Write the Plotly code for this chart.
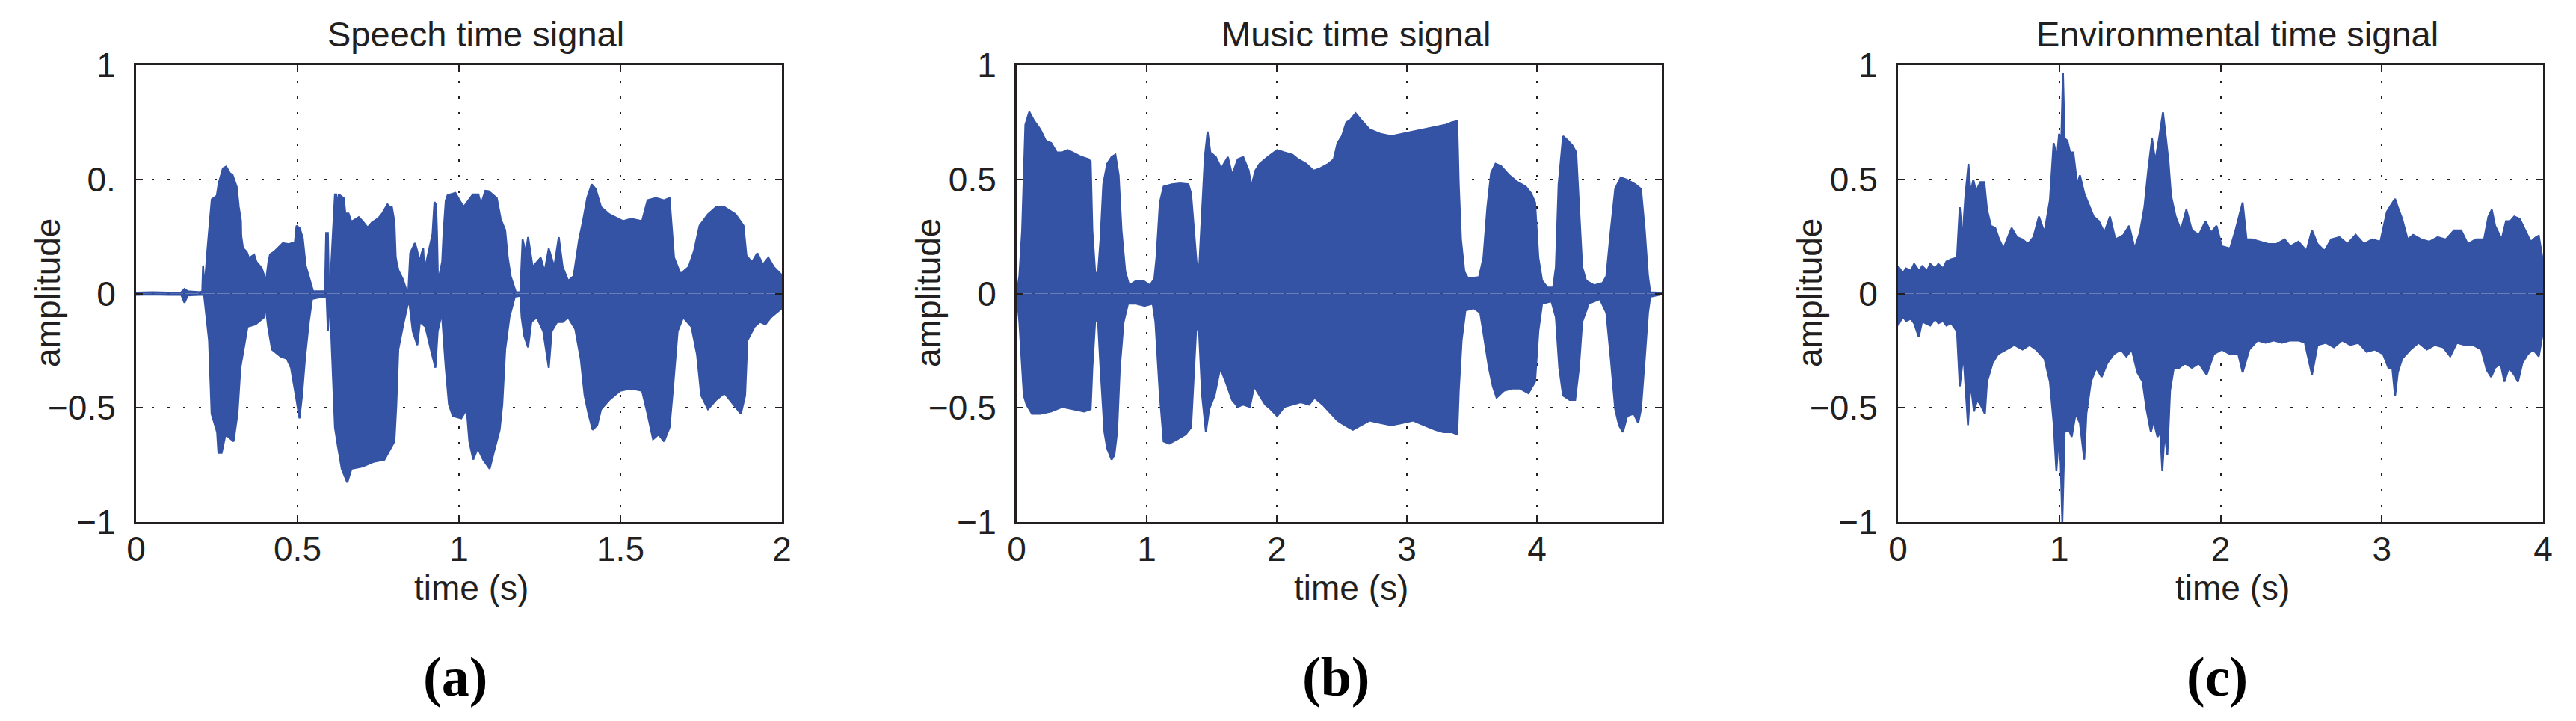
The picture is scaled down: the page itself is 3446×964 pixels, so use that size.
import plotly.graph_objects as go

# ---------------- data (envelopes) ----------------
speech_up_t = [0.0, 0.05, 0.10, 0.14, 0.15, 0.16, 0.20, 0.205, 0.2075, 0.212, 0.2215, 0.231, 0.2345, 0.25, 0.256, 0.269, 0.279, 0.291,
               0.2985, 0.3117, 0.318, 0.3248, 0.3256, 0.331, 0.3426, 0.350, 0.3657, 0.3727, 0.3889, 0.398, 0.403, 0.410,
               0.415, 0.4275, 0.4545, 0.4738, 0.492, 0.497, 0.5069, 0.5162, 0.52, 0.525, 0.534, 0.5417, 0.548, 0.585,
               0.5887, 0.594, 0.597, 0.602, 0.607, 0.6119, 0.616, 0.62, 0.623, 0.628, 0.6435, 0.648, 0.658, 0.6667,
               0.6898, 0.703, 0.7169, 0.73, 0.7505, 0.763, 0.7785, 0.785, 0.792, 0.800, 0.804, 0.808, 0.813, 0.826,
               0.835, 0.843, 0.849, 0.8634, 0.870, 0.8777, 0.889, 0.893, 0.898, 0.912, 0.918, 0.924, 0.929, 0.932,
               0.935, 0.948, 0.952, 0.959, 0.965, 0.989, 1.005, 1.015, 1.043, 1.06, 1.068, 1.0818, 1.092, 1.117,
               1.129, 1.143, 1.151, 1.16, 1.176, 1.19, 1.197, 1.207, 1.214, 1.228, 1.253, 1.265, 1.278, 1.295,
               1.309, 1.321, 1.338, 1.355, 1.372, 1.384, 1.397, 1.411, 1.423, 1.44, 1.465, 1.508, 1.533, 1.567,
               1.584, 1.61, 1.635, 1.652, 1.66, 1.666, 1.686, 1.711, 1.728, 1.745, 1.771, 1.796, 1.822, 1.856,
               1.881, 1.89, 1.907, 1.924, 1.941, 1.958, 1.975, 1.99, 2.0]
speech_up_v = [0.004, 0.006, 0.004, 0.005, 0.02, 0.01, 0.006, 0.01, 0.123, 0.02, 0.199, 0.352, 0.412, 0.428, 0.483, 0.548, 0.556, 0.526,
               0.52, 0.466, 0.379, 0.319, 0.254, 0.199, 0.183, 0.155, 0.170, 0.139, 0.112, 0.074, 0.06, 0.139,
               0.172, 0.183, 0.221, 0.216, 0.226, 0.297, 0.286, 0.243, 0.18, 0.123, 0.079, 0.041, 0.01, 0.01,
               0.265, 0.265, 0.05, 0.06, 0.188, 0.325, 0.434, 0.434, 0.377, 0.434, 0.417, 0.35, 0.35, 0.314,
               0.334, 0.314, 0.289, 0.31, 0.33, 0.352, 0.39, 0.38, 0.38, 0.314, 0.161, 0.128, 0.10, 0.063,
               0.024, 0.005, 0.177, 0.221, 0.19, 0.14, 0.20, 0.10, 0.13, 0.22, 0.26, 0.40, 0.39, 0.26,
               0.05, 0.14, 0.26, 0.406, 0.43, 0.44, 0.40, 0.38, 0.434, 0.434, 0.39, 0.45, 0.448, 0.418,
               0.327, 0.277, 0.157, 0.076, 0.006, 0.006, 0.237, 0.177, 0.247, 0.116, 0.157, 0.096, 0.197, 0.116,
               0.247, 0.116, 0.056, 0.076, 0.237, 0.317, 0.418, 0.478, 0.458, 0.378, 0.347, 0.317, 0.327, 0.317,
               0.408, 0.418, 0.408, 0.418, 0.277, 0.157, 0.086, 0.116, 0.187, 0.297, 0.347, 0.378, 0.378, 0.347,
               0.297, 0.167, 0.137, 0.177, 0.127, 0.157, 0.116, 0.096, 0.08]
speech_lo_t = [0.0, 0.05, 0.10, 0.14, 0.15, 0.16, 0.21, 0.212, 0.226, 0.234, 0.251, 0.255, 0.265, 0.277, 0.302, 0.314, 0.323, 0.345,
               0.37, 0.396, 0.401, 0.409, 0.421, 0.447, 0.467, 0.48, 0.497, 0.506, 0.514, 0.523, 0.535, 0.545, 0.59,
               0.594, 0.60, 0.608, 0.616, 0.625, 0.637, 0.654, 0.667, 0.701, 0.735, 0.769, 0.789, 0.80, 0.806,
               0.812, 0.829, 0.845, 0.857, 0.871, 0.879, 0.896, 0.913, 0.927, 0.934, 0.947, 0.959, 0.969, 0.981,
               1.007, 1.024, 1.032, 1.044, 1.058, 1.075, 1.095, 1.109, 1.126, 1.134, 1.143, 1.156, 1.173, 1.19,
               1.194, 1.202, 1.214, 1.224, 1.241, 1.261, 1.278, 1.287, 1.304, 1.321, 1.338, 1.36, 1.377, 1.389,
               1.401, 1.414, 1.428, 1.44, 1.465, 1.499, 1.533, 1.567, 1.584, 1.601, 1.618, 1.635, 1.652, 1.662,
               1.677, 1.694, 1.72, 1.737, 1.75, 1.771, 1.796, 1.822, 1.856, 1.873, 1.886, 1.893, 1.915, 1.932,
               1.949, 1.966, 1.983, 2.0]
speech_lo_v = [-0.006, -0.004, -0.006, -0.005, -0.04, -0.008, -0.005, -0.024, -0.205, -0.526, -0.606, -0.697, -0.697, -0.616, -0.647, -0.526, -0.325, -0.145,
               -0.135, -0.104, -0.054, -0.145, -0.245, -0.275, -0.285, -0.325, -0.466, -0.546, -0.446, -0.285, -0.124, -0.024, -0.01,
               -0.165, -0.02, -0.285, -0.586, -0.667, -0.767, -0.827, -0.767, -0.757, -0.737, -0.727, -0.677, -0.647, -0.486,
               -0.245, -0.124, -0.024, -0.165, -0.225, -0.124, -0.145, -0.245, -0.325, -0.165, -0.084, -0.325, -0.486, -0.536,
               -0.546, -0.506, -0.647, -0.727, -0.677, -0.727, -0.767, -0.687, -0.596, -0.486, -0.245, -0.104, -0.014, -0.01,
               -0.104, -0.185, -0.235, -0.124, -0.104, -0.165, -0.325, -0.165, -0.124, -0.124, -0.104, -0.155, -0.285, -0.446,
               -0.526, -0.596, -0.576, -0.506, -0.466, -0.426, -0.416, -0.426, -0.526, -0.637, -0.616, -0.647, -0.586, -0.426,
               -0.165, -0.104, -0.145, -0.265, -0.446, -0.506, -0.466, -0.436, -0.496, -0.526, -0.446, -0.205, -0.145, -0.124,
               -0.135, -0.104, -0.084, -0.064]

music_up_t = [0.0, 0.021, 0.042, 0.055, 0.067, 0.097, 0.131, 0.181, 0.224, 0.266, 0.308, 0.35, 0.392, 0.443, 0.498, 0.553,
              0.569, 0.582, 0.603, 0.624, 0.645, 0.666, 0.696, 0.73, 0.759, 0.784, 0.806, 0.835, 0.865, 0.919, 0.974,
              1.025, 1.059, 1.075, 1.101, 1.13, 1.194, 1.257, 1.32, 1.341, 1.362, 1.383, 1.404, 1.426, 1.447, 1.468,
              1.489, 1.531, 1.573, 1.624, 1.657, 1.70, 1.742, 1.784, 1.805, 1.835, 1.868, 1.932, 2.003, 2.058, 2.121,
              2.164, 2.227, 2.282, 2.332, 2.396, 2.438, 2.467, 2.501, 2.535, 2.564, 2.606, 2.649, 2.712, 2.796, 2.881,
              2.965, 3.049, 3.134, 3.218, 3.302, 3.344, 3.387, 3.399, 3.416, 3.442, 3.471, 3.555, 3.589, 3.619, 3.648,
              3.682, 3.724, 3.787, 3.851, 3.914, 3.956, 3.986, 4.011, 4.04, 4.082, 4.125, 4.146, 4.167, 4.201, 4.239,
              4.272, 4.302, 4.323, 4.348, 4.378, 4.441, 4.505, 4.534, 4.568, 4.602, 4.644, 4.694, 4.757, 4.80, 4.829,
              4.854, 4.871, 4.96]
music_up_v = [0.0, 0.076, 0.277, 0.518, 0.739, 0.795, 0.759, 0.719, 0.669, 0.659, 0.618, 0.618, 0.628, 0.614, 0.598, 0.588,
              0.578, 0.277, 0.096, 0.076, 0.237, 0.478, 0.568, 0.598, 0.608, 0.518, 0.277, 0.096, 0.036, 0.056, 0.056,
              0.036, 0.066, 0.157, 0.398, 0.468, 0.478, 0.482, 0.478, 0.438, 0.277, 0.137, 0.116, 0.378, 0.598, 0.709,
              0.618, 0.598, 0.548, 0.598, 0.518, 0.588, 0.598, 0.538, 0.468, 0.538, 0.568, 0.598, 0.628, 0.618, 0.608,
              0.588, 0.568, 0.538, 0.548, 0.568, 0.588, 0.659, 0.689, 0.749, 0.759, 0.789, 0.759, 0.719, 0.699, 0.689,
              0.699, 0.709, 0.719, 0.729, 0.739, 0.749, 0.755, 0.478, 0.237, 0.096, 0.066, 0.072, 0.157, 0.378, 0.528,
              0.568, 0.558, 0.518, 0.488, 0.468, 0.438, 0.398, 0.157, 0.056, 0.026, 0.026, 0.116, 0.478, 0.689, 0.669,
              0.649, 0.618, 0.378, 0.116, 0.056, 0.036, 0.046, 0.076, 0.277, 0.458, 0.508, 0.498, 0.478, 0.458, 0.277,
              0.076, 0.006, 0.003]
music_lo_t = [0.0, 0.021, 0.042, 0.055, 0.076, 0.118, 0.181, 0.266, 0.35, 0.434, 0.519, 0.569, 0.582, 0.603, 0.624, 0.645,
              0.675, 0.696, 0.73, 0.751, 0.772, 0.793, 0.822, 0.856, 0.919, 0.983, 1.046, 1.067, 1.101, 1.13, 1.173,
              1.236, 1.299, 1.341, 1.362, 1.383, 1.404, 1.426, 1.455, 1.48, 1.522, 1.565, 1.607, 1.657, 1.70, 1.742,
              1.793, 1.826, 1.868, 1.911, 1.953, 2.003, 2.058, 2.121, 2.185, 2.248, 2.29, 2.353, 2.417, 2.467, 2.522,
              2.585, 2.649, 2.712, 2.796, 2.881, 2.965, 3.049, 3.134, 3.218, 3.281, 3.344, 3.387, 3.399, 3.421, 3.45,
              3.513, 3.564, 3.598, 3.631, 3.661, 3.69, 3.745, 3.808, 3.871, 3.935, 3.986, 4.011, 4.04, 4.112, 4.146,
              4.172, 4.201, 4.252, 4.294, 4.323, 4.348, 4.399, 4.484, 4.534, 4.568, 4.602, 4.631, 4.661, 4.694, 4.745,
              4.779, 4.80, 4.829, 4.854, 4.871, 4.96]
music_lo_v = [0.0, -0.124, -0.325, -0.446, -0.486, -0.526, -0.526, -0.516, -0.496, -0.506, -0.516, -0.506, -0.325, -0.124, -0.104, -0.325,
              -0.606, -0.677, -0.727, -0.707, -0.606, -0.325, -0.124, -0.044, -0.044, -0.054, -0.044, -0.124, -0.446, -0.647, -0.657,
              -0.637, -0.616, -0.586, -0.365, -0.124, -0.185, -0.446, -0.606, -0.506, -0.446, -0.325, -0.386, -0.466, -0.496, -0.486,
              -0.496, -0.406, -0.446, -0.486, -0.506, -0.536, -0.496, -0.486, -0.476, -0.486, -0.456, -0.486, -0.526, -0.556, -0.576,
              -0.596, -0.576, -0.556, -0.566, -0.576, -0.566, -0.556, -0.576, -0.596, -0.606, -0.606, -0.616, -0.426, -0.205, -0.074,
              -0.064, -0.084, -0.205, -0.325, -0.406, -0.456, -0.426, -0.416, -0.416, -0.436, -0.386, -0.165, -0.044, -0.034, -0.104,
              -0.325, -0.446, -0.466, -0.466, -0.325, -0.124, -0.044, -0.024, -0.084, -0.285, -0.506, -0.576, -0.606, -0.536, -0.526,
              -0.566, -0.506, -0.285, -0.084, -0.014, -0.003]

env_up_t = [0.0, 0.03, 0.05, 0.08, 0.10, 0.13, 0.15, 0.18, 0.20, 0.23, 0.25, 0.28, 0.30, 0.33, 0.366, 0.383, 0.40, 0.417, 0.437,
            0.45, 0.467, 0.484, 0.511, 0.535, 0.552, 0.576, 0.603, 0.627, 0.654, 0.705, 0.738, 0.772, 0.806, 0.84, 0.874,
            0.908, 0.942, 0.965, 0.986, 0.999, 1.013, 1.023, 1.033, 1.05, 1.067, 1.087, 1.111, 1.128, 1.155, 1.179, 1.213,
            1.246, 1.28, 1.314, 1.348, 1.399, 1.433, 1.467, 1.50, 1.528, 1.551, 1.575, 1.595, 1.619, 1.643, 1.663, 1.677,
            1.693, 1.721, 1.754, 1.788, 1.822, 1.866, 1.907, 1.941, 1.975, 2.008, 2.059, 2.093, 2.137, 2.161, 2.195, 2.246,
            2.296, 2.347, 2.398, 2.432, 2.483, 2.533, 2.567, 2.601, 2.645, 2.686, 2.737, 2.787, 2.838, 2.889, 2.94, 2.991,
            3.031, 3.058, 3.082, 3.099, 3.126, 3.16, 3.194, 3.245, 3.296, 3.346, 3.397, 3.448, 3.492, 3.533, 3.584, 3.634,
            3.661, 3.682, 3.702, 3.743, 3.77, 3.797, 3.821, 3.855, 3.889, 3.923, 3.956, 3.973, 4.0]
env_up_v = [0.12, 0.09, 0.11, 0.10, 0.13, 0.10, 0.12, 0.10, 0.13, 0.11, 0.13, 0.11, 0.14, 0.15, 0.157, 0.378, 0.237, 0.418, 0.568,
            0.438, 0.498, 0.448, 0.488, 0.488, 0.367, 0.297, 0.287, 0.237, 0.197, 0.287, 0.247, 0.237, 0.217, 0.247, 0.337,
            0.267, 0.408, 0.659, 0.598, 0.699, 0.679, 0.964, 0.679, 0.669, 0.618, 0.618, 0.478, 0.518, 0.438, 0.398, 0.337,
            0.317, 0.267, 0.337, 0.237, 0.257, 0.297, 0.197, 0.267, 0.378, 0.538, 0.679, 0.578, 0.679, 0.793, 0.669, 0.578,
            0.428, 0.337, 0.277, 0.367, 0.277, 0.257, 0.317, 0.267, 0.297, 0.207, 0.197, 0.277, 0.398, 0.237, 0.237, 0.227,
            0.217, 0.217, 0.237, 0.207, 0.227, 0.187, 0.277, 0.217, 0.187, 0.237, 0.247, 0.217, 0.257, 0.217, 0.237, 0.227,
            0.357, 0.388, 0.414, 0.378, 0.327, 0.237, 0.257, 0.237, 0.227, 0.247, 0.237, 0.277, 0.277, 0.217, 0.237, 0.237,
            0.337, 0.367, 0.297, 0.237, 0.317, 0.317, 0.337, 0.327, 0.277, 0.227, 0.247, 0.253, 0.137]
env_lo_t = [0.0, 0.03, 0.05, 0.08, 0.10, 0.129, 0.15, 0.17, 0.20, 0.23, 0.25, 0.28, 0.30, 0.33, 0.366, 0.383, 0.406, 0.434,
            0.45, 0.471, 0.491, 0.511, 0.539, 0.552, 0.586, 0.62, 0.671, 0.721, 0.772, 0.816, 0.857, 0.908, 0.942, 0.965,
            0.982, 0.999, 1.009, 1.019, 1.033, 1.06, 1.077, 1.101, 1.128, 1.155, 1.168, 1.196, 1.229, 1.263, 1.297, 1.338,
            1.382, 1.416, 1.45, 1.484, 1.517, 1.541, 1.568, 1.585, 1.609, 1.626, 1.639, 1.653, 1.67, 1.687, 1.71, 1.744,
            1.778, 1.822, 1.866, 1.914, 1.958, 2.008, 2.059, 2.11, 2.137, 2.178, 2.229, 2.279, 2.33, 2.381, 2.432, 2.483,
            2.523, 2.567, 2.601, 2.652, 2.703, 2.754, 2.804, 2.855, 2.906, 2.957, 3.008, 3.041, 3.065, 3.082, 3.099, 3.126,
            3.177, 3.228, 3.279, 3.329, 3.38, 3.424, 3.465, 3.516, 3.566, 3.617, 3.651, 3.678, 3.702, 3.736, 3.76, 3.787,
            3.821, 3.844, 3.871, 3.905, 3.939, 3.973, 4.0]
env_lo_v = [-0.14, -0.10, -0.12, -0.11, -0.13, -0.19, -0.12, -0.13, -0.14, -0.11, -0.13, -0.12, -0.14, -0.13, -0.165, -0.406, -0.265, -0.576,
            -0.386, -0.516, -0.466, -0.486, -0.526, -0.386, -0.305, -0.265, -0.245, -0.225, -0.245, -0.225, -0.245, -0.285, -0.386, -0.566,
            -0.777, -0.606, -0.747, -1.0, -0.606, -0.596, -0.627, -0.526, -0.566, -0.727, -0.526, -0.386, -0.325, -0.365, -0.305, -0.265,
            -0.245, -0.275, -0.245, -0.345, -0.386, -0.506, -0.606, -0.556, -0.627, -0.606, -0.777, -0.606, -0.707, -0.426, -0.325, -0.325,
            -0.305, -0.325, -0.305, -0.355, -0.265, -0.245, -0.265, -0.265, -0.345, -0.245, -0.205, -0.215, -0.205, -0.215, -0.205, -0.205,
            -0.215, -0.355, -0.225, -0.215, -0.235, -0.205, -0.225, -0.215, -0.255, -0.245, -0.265, -0.325, -0.325, -0.45, -0.345, -0.285,
            -0.245, -0.215, -0.245, -0.225, -0.235, -0.275, -0.215, -0.225, -0.225, -0.245, -0.335, -0.365, -0.325, -0.305, -0.386, -0.325,
            -0.355, -0.386, -0.305, -0.265, -0.245, -0.275, -0.165]

titles = ["Speech time signal", "Music time signal", "Environmental time signal"]
panel_labels = ["(a)", "(b)", "(c)"]
x_ranges = [[0, 2], [0, 4.96], [0, 4]]
x_ticks = [[0, 0.5, 1, 1.5, 2], [0, 1, 2, 3, 4], [0, 1, 2, 3, 4]]
x_ticktext = [["0", "0.5", "1", "1.5", "2"], ["0", "1", "2", "3", "4"], ["0", "1", "2", "3", "4"]]
y_ticks = [-1, -0.5, 0, 0.5, 1]
y_ticktext = [["\u22121", "\u22120.5", "0", "0.", "1"],
              ["\u22121", "\u22120.5", "0", "0.5", "1"],
              ["\u22121", "\u22120.5", "0", "0.5", "1"]]
x_title = "time (s)"
y_title = "amplitude"

# ---------------- layout ----------------
# The page body has an 8px margin, so the figure is made 16px smaller and
# every page-pixel position below is shifted by that margin.
PAGE_W, PAGE_H, BODY = 3446, 964, 8
W, H = PAGE_W - 2 * BODY, PAGE_H - 2 * BODY
left_px = [182, 1360, 2539]
right_px = [1046, 2223, 3402]
top_px, bottom_px = 87, 698
BLUE = "#3453a4"
INK = "#231f20"
SANS = "Liberation Sans, Arial, Helvetica, sans-serif"
SERIF = "Liberation Serif, Times New Roman, serif"


def px_x(x):
    return (x - BODY) / W


def px_y(y):
    return 1 - (y - BODY) / H


fig = go.Figure()
series = [(speech_up_t, speech_up_v, speech_lo_t, speech_lo_v),
          (music_up_t, music_up_v, music_lo_t, music_lo_v),
          (env_up_t, env_up_v, env_lo_t, env_lo_v)]

for i, (ut, uv, lt, lv) in enumerate(series):
    xa = "x" if i == 0 else f"x{i+1}"
    ya = "y" if i == 0 else f"y{i+1}"
    for tt, vv in ((ut, uv), (lt, lv)):
        fig.add_trace(go.Scatter(x=tt, y=vv, xaxis=xa, yaxis=ya, mode="lines",
                                 line=dict(color=BLUE, width=2.5), fill="tozeroy",
                                 fillcolor=BLUE, showlegend=False, hoverinfo="skip"))

ydom = [px_y(bottom_px), px_y(top_px)]
annotations = []
for i in range(3):
    sfx = "" if i == 0 else str(i + 1)
    xdom = [px_x(left_px[i]), px_x(right_px[i])]
    common = dict(showline=True, linecolor=INK, linewidth=3, mirror="ticks",
                  ticks="inside", ticklen=9, tickwidth=2, tickcolor=INK, automargin=False,
                  showgrid=True, gridcolor=INK, gridwidth=2, griddash="3px,18px",
                  zeroline=False, tickfont=dict(family=SANS, size=46, color=INK))
    fig.layout["xaxis" + sfx] = dict(domain=xdom, range=x_ranges[i], anchor="y" + sfx,
                                      tickmode="array", tickvals=x_ticks[i], ticktext=x_ticktext[i],
                                      ticklabelstandoff=-6, **common)
    fig.layout["yaxis" + sfx] = dict(domain=ydom, range=[-1, 1], anchor="x" + sfx,
                                      tickmode="array", tickvals=y_ticks, ticktext=y_ticktext[i],
                                      ticklabelstandoff=15, **common)
    cx_px = (left_px[i] + right_px[i]) / 2
    annotations.append(dict(text=titles[i], x=px_x(cx_px + 22), y=px_y(46), xref="paper", yref="paper",
                            xanchor="center", yanchor="middle", showarrow=False,
                            font=dict(family=SANS, size=47, color=INK)))
    annotations.append(dict(text=x_title, x=px_x(cx_px + 16), y=px_y(786), xref="paper", yref="paper",
                            xanchor="center", yanchor="middle", showarrow=False,
                            font=dict(family=SANS, size=46, color=INK)))
    annotations.append(dict(text=y_title, x=px_x(left_px[i] - 118), y=px_y(392), xref="paper",
                            yref="paper", xanchor="center", yanchor="middle", textangle=-90,
                            showarrow=False, font=dict(family=SANS, size=46, color=INK)))
    annotations.append(dict(text="<b>" + panel_labels[i] + "</b>", x=px_x(cx_px - 5), y=px_y(905),
                            xref="paper", yref="paper", xanchor="center", yanchor="middle",
                            showarrow=False, font=dict(family=SERIF, size=74, color="#000000")))

fig.update_layout(width=W, height=H, margin=dict(l=0, r=0, t=0, b=0, autoexpand=False),
                  paper_bgcolor="white", plot_bgcolor="white",
                  annotations=annotations, showlegend=False)

fig.write_html("out.html")
